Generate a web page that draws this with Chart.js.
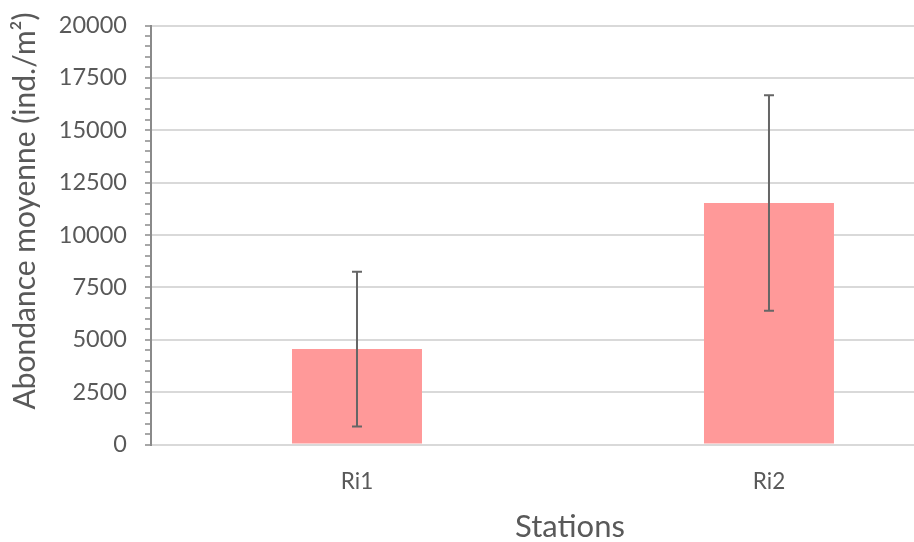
<!DOCTYPE html>
<html><head><meta charset="utf-8">
<script src="https://cdn.jsdelivr.net/npm/chart.js@4/dist/chart.umd.min.js"></script>
<style>html,body{margin:0;padding:0;background:#fff;overflow:hidden}</style>
</head><body>
<canvas id="c" width="914" height="542"></canvas>
<script>
// ---- data ----
const categories = ['Ri1', 'Ri2'];
const meanValues = [4555, 11530];
const errorValues = [3690, 5145];
const yMin = 0;
const yMax = 20000;
const yMajorStep = 2500;
const yMinorStep = 500;
const xAxisTitle = 'Stations';
const yAxisTitle = 'Abondance moyenne (ind./m²)';

const FONT = 'Lato, "Open Sans", sans-serif';
const TEXT = '#595959';
const AXIS = '#8a8a8a';
const GRID = '#d9d9d9';

const errorBarsPlugin = {
  id: 'errorBars',
  afterDatasetsDraw(chart) {
    const ctx = chart.ctx;
    const meta = chart.getDatasetMeta(0);
    const ys = chart.scales.y;
    ctx.save();
    ctx.strokeStyle = '#666666';
    ctx.lineWidth = 2;
    meta.data.forEach((bar, i) => {
      const x = bar.x;
      const top = ys.getPixelForValue(meanValues[i] + errorValues[i]);
      const bot = ys.getPixelForValue(meanValues[i] - errorValues[i]);
      ctx.beginPath();
      ctx.moveTo(x, top); ctx.lineTo(x, bot);
      ctx.moveTo(x - 5, top); ctx.lineTo(x + 5, top);
      ctx.moveTo(x - 5, bot); ctx.lineTo(x + 5, bot);
      ctx.stroke();
    });
    ctx.restore();
  }
};

const axisTitlesPlugin = {
  id: 'axisTitles',
  afterDraw(chart, args, opts) {
    const ctx = chart.ctx;
    ctx.save();
    ctx.fillStyle = TEXT;
    ctx.textAlign = 'center';
    ctx.textBaseline = 'middle';
    ctx.font = opts.xFont;
    ctx.fillText(xAxisTitle, opts.xPos[0], opts.xPos[1]);
    ctx.translate(opts.yPos[0], opts.yPos[1]);
    ctx.rotate(-Math.PI / 2);
    ctx.font = opts.yFont;
    ctx.fillText(yAxisTitle, 0, 0);
    ctx.restore();
  }
};

new Chart(document.getElementById('c'), {
  type: 'bar',
  data: {
    datasets: [{
      data: meanValues.map((v, i) => ({ x: i, y: v })),
      backgroundColor: '#ff9999',
      borderWidth: 0,
      barPercentage: 1,
      categoryPercentage: 0.3155
    }]
  },
  options: {
    responsive: false,
    animation: false,
    devicePixelRatio: 1,
    layout: { padding: { top: 25.5, right: 0, bottom: 0, left: 0 } },
    plugins: {
      legend: { display: false },
      tooltip: { enabled: false },
      axisTitles: {
        xFont: '31px ' + FONT,
        yFont: '30px ' + FONT,
        xPos: [570, 527],
        yPos: [25, 211]
      }
    },
    scales: {
      x: {
        type: 'linear',
        offset: false,
        min: -0.5,
        max: 1.352,
        afterBuildTicks: (s) => { s.ticks = categories.map((_, i) => ({ value: i })); },
        afterFit: (s) => { s.height = 97.5; s.paddingLeft = 0; s.paddingRight = 0; },
        grid: { display: false, drawTicks: false, offset: false },
        border: { display: false },
        ticks: {
          autoSkip: false,
          maxRotation: 0,
          padding: 24,
          color: TEXT,
          font: { family: FONT, size: 22.5 },
          callback: (v) => categories[v] ?? ''
        }
      },
      y: {
        min: yMin,
        max: yMax,
        afterFit: (s) => { s.width = 151; s.paddingTop = 0; s.paddingBottom = 0; },
        grid: {
          color: (c) => (c.tick && c.tick.value % yMajorStep === 0) ? GRID : 'rgba(0,0,0,0)',
          lineWidth: 2,
          drawTicks: true,
          tickLength: 6,
          tickColor: AXIS,
          tickWidth: 1.5
        },
        border: { display: true, color: AXIS, width: 2 },
        ticks: {
          stepSize: yMinorStep,
          autoSkip: false,
          padding: 18,
          color: TEXT,
          font: { family: FONT, size: 23.5 },
          callback: (v) => (v % yMajorStep === 0) ? String(v) : ''
        }
      }
    }
  },
  plugins: [errorBarsPlugin, axisTitlesPlugin]
});
</script>
</body></html>
